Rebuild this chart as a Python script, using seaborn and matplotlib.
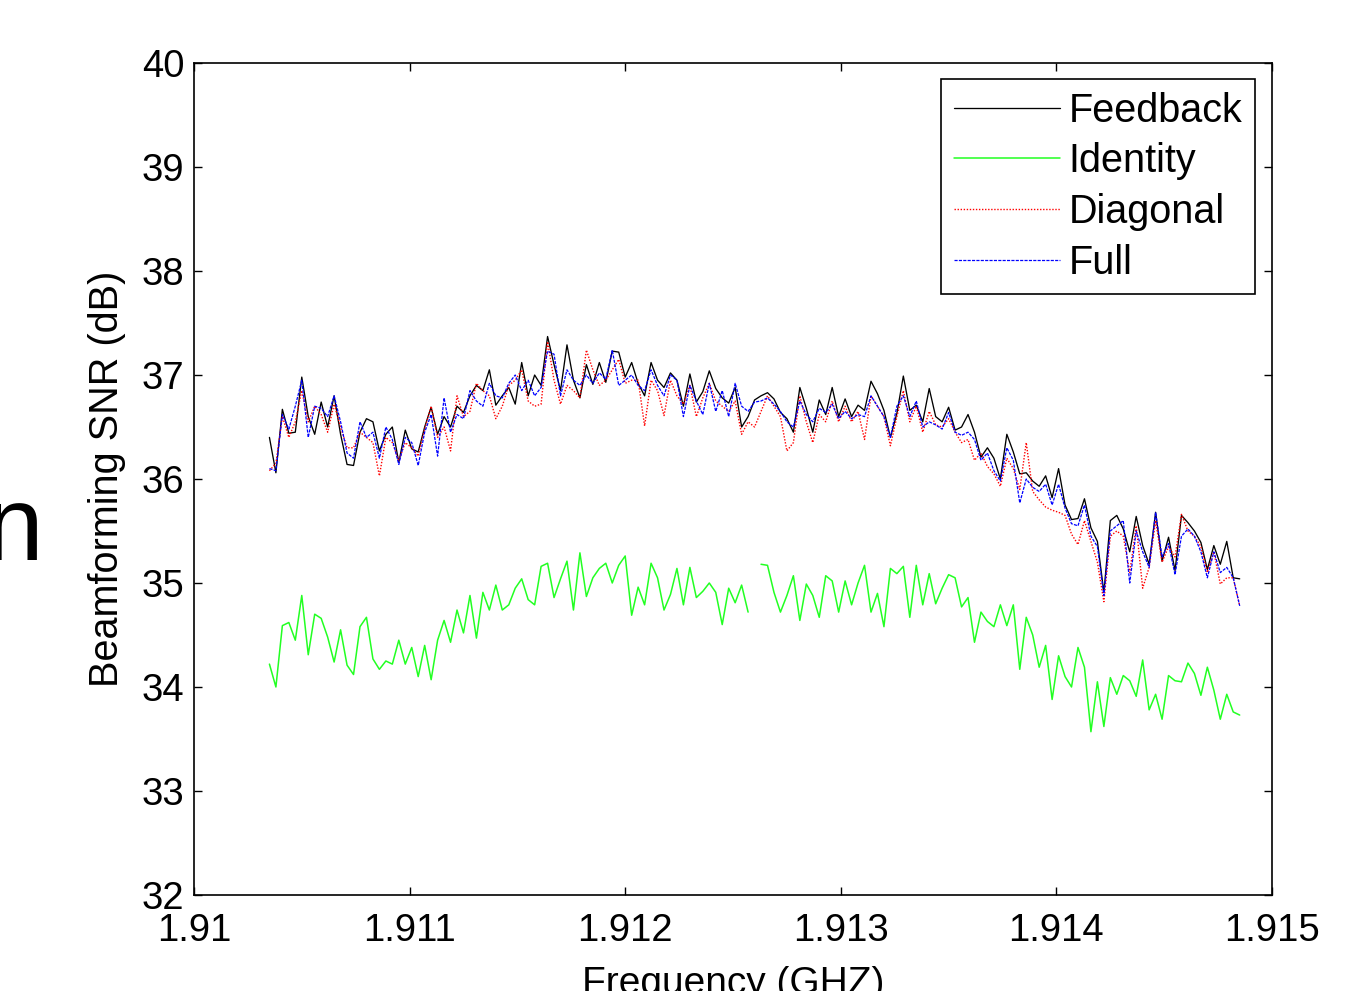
import numpy as np
import pandas as pd
import matplotlib
matplotlib.use("Agg")
import matplotlib.pyplot as plt
import seaborn as sns

# Subcarrier index (every 2nd subcarrier, 15 kHz spacing around 1.9126 GHz)
subcarrier = list(range(-150, 151, 2))
center_ghz = 1.9126
spacing_ghz = 0.000015

feedback = [
    36.40, 36.06, 36.67, 36.44, 36.45, 36.98, 36.60, 36.43, 36.74, 36.50,
    36.80, 36.43, 36.14, 36.13, 36.45, 36.58, 36.55, 36.27, 36.43, 36.50,
    36.16, 36.47, 36.29, 36.26, 36.50, 36.69, 36.43, 36.60, 36.50, 36.70,
    36.64, 36.80, 36.90, 36.85, 37.05, 36.71, 36.80, 36.88, 36.72, 37.12,
    36.80, 37.00, 36.90, 37.37, 37.10, 36.85, 37.29, 36.95, 36.78, 37.10,
    36.91, 37.12, 36.93, 37.23, 37.22, 36.98, 37.12, 36.92, 36.80, 37.12,
    36.95, 36.88, 37.02, 36.95, 36.70, 37.01, 36.74, 36.84, 37.04, 36.87,
    36.78, 36.73, 36.88, 36.50, 36.60, 36.76, 36.80, 36.83, 36.77, 36.64,
    36.58, 36.45, 36.88, 36.68, 36.45, 36.76, 36.62, 36.88, 36.60, 36.77,
    36.60, 36.71, 36.66, 36.94, 36.82, 36.66, 36.40, 36.63, 36.99, 36.66,
    36.71, 36.55, 36.87, 36.60, 36.55, 36.69, 36.47, 36.50, 36.62, 36.45,
    36.21, 36.30, 36.20, 36.00, 36.43, 36.26, 36.05, 36.06, 35.98, 35.93,
    36.03, 35.82, 36.10, 35.75, 35.61, 35.62, 35.81, 35.53, 35.40, 34.91,
    35.60, 35.65, 35.52, 35.30, 35.64, 35.36, 35.18, 35.68, 35.21, 35.44,
    35.12, 35.65, 35.58, 35.50, 35.39, 35.13, 35.36, 35.18, 35.40, 35.05,
    35.04,
]

identity = [
    34.22, 34.00, 34.59, 34.62, 34.45, 34.88, 34.31, 34.70, 34.66, 34.48,
    34.24, 34.55, 34.21, 34.12, 34.58, 34.67, 34.27, 34.17, 34.25, 34.22,
    34.45, 34.22, 34.38, 34.10, 34.40, 34.07, 34.45, 34.64, 34.43, 34.74,
    34.52, 34.88, 34.47, 34.91, 34.74, 34.98, 34.74, 34.79, 34.95, 35.04,
    34.84, 34.79, 35.16, 35.19, 34.86, 35.04, 35.21, 34.74, 35.29, 34.87,
    35.05, 35.14, 35.19, 35.00, 35.17, 35.26, 34.69, 34.96, 34.79, 35.19,
    35.05, 34.74, 34.89, 35.14, 34.79, 35.15, 34.86, 34.92, 35.00, 34.91,
    34.60, 34.95, 34.81, 34.98, 34.72, np.nan, 35.18, 35.17, 34.91, 34.72,
    34.88, 35.07, 34.64, 34.99, 34.88, 34.67, 35.07, 35.02, 34.72, 35.02,
    34.79, 35.00, 35.17, 34.72, 34.90, 34.58, 35.14, 35.09, 35.16, 34.67,
    35.17, 34.79, 35.09, 34.80, 34.95, 35.08, 35.05, 34.77, 34.86, 34.43,
    34.72, 34.63, 34.58, 34.79, 34.59, 34.79, 34.17, 34.67, 34.50, 34.19,
    34.40, 33.88, 34.30, 34.10, 34.00, 34.38, 34.19, 33.57, 34.05, 33.62,
    34.09, 33.93, 34.11, 34.06, 33.91, 34.26, 33.78, 33.93, 33.69, 34.11,
    34.06, 34.05, 34.23, 34.13, 33.92, 34.19, 33.97, 33.69, 33.93, 33.76,
    33.73,
]

diagonal = [
    36.08, 36.15, 36.60, 36.40, 36.55, 36.85, 36.55, 36.70, 36.62, 36.45,
    36.72, 36.50, 36.30, 36.30, 36.45, 36.40, 36.35, 36.03, 36.40, 36.35,
    36.18, 36.35, 36.30, 36.22, 36.48, 36.70, 36.40, 36.50, 36.27, 36.80,
    36.60, 36.65, 36.92, 36.85, 36.80, 36.58, 36.70, 36.90, 36.95, 37.05,
    36.75, 36.70, 36.72, 37.32, 36.95, 36.72, 36.90, 36.85, 36.78, 37.24,
    37.05, 36.90, 36.95, 37.05, 37.15, 36.92, 36.95, 36.95, 36.51, 36.95,
    36.85, 36.61, 36.95, 36.80, 36.72, 36.90, 36.60, 36.78, 36.92, 36.75,
    36.70, 36.65, 36.75, 36.43, 36.55, 36.50, 36.65, 36.80, 36.70, 36.60,
    36.27, 36.35, 36.80, 36.55, 36.35, 36.62, 36.55, 36.75, 36.55, 36.70,
    36.55, 36.65, 36.38, 36.80, 36.70, 36.60, 36.32, 36.60, 36.85, 36.55,
    36.70, 36.45, 36.65, 36.52, 36.50, 36.58, 36.45, 36.35, 36.38, 36.18,
    36.25, 36.12, 36.05, 35.93, 36.20, 36.10, 35.90, 36.35, 35.88, 35.80,
    35.73, 35.70, 35.68, 35.65, 35.47, 35.37, 35.60, 35.40, 35.20, 34.82,
    35.45, 35.50, 35.45, 35.10, 35.55, 34.95, 35.15, 35.60, 35.20, 35.35,
    35.25, 35.66, 35.50, 35.45, 35.35, 35.10, 35.30, 34.99, 35.05, 35.05,
    34.78,
]

full = [
    36.10, 36.08, 36.62, 36.48, 36.70, 36.95, 36.40, 36.70, 36.68, 36.60,
    36.80, 36.55, 36.25, 36.20, 36.55, 36.40, 36.45, 36.20, 36.50, 36.38,
    36.14, 36.40, 36.35, 36.13, 36.45, 36.62, 36.22, 36.78, 36.45, 36.62,
    36.58, 36.85, 36.75, 36.70, 36.92, 36.80, 36.78, 36.92, 37.00, 36.85,
    36.95, 36.80, 36.88, 37.23, 37.20, 36.80, 37.05, 36.95, 36.90, 37.00,
    36.92, 37.02, 36.96, 37.24, 36.90, 36.95, 37.00, 36.90, 36.85, 37.05,
    36.90, 36.80, 37.00, 36.95, 36.60, 36.90, 36.75, 36.62, 36.92, 36.65,
    36.85, 36.60, 36.92, 36.70, 36.65, 36.74, 36.75, 36.78, 36.72, 36.65,
    36.55, 36.50, 36.75, 36.62, 36.55, 36.68, 36.64, 36.72, 36.58, 36.65,
    36.58, 36.62, 36.60, 36.80, 36.70, 36.60, 36.40, 36.70, 36.80, 36.60,
    36.75, 36.50, 36.55, 36.52, 36.48, 36.64, 36.45, 36.42, 36.45, 36.38,
    36.18, 36.25, 36.08, 35.98, 36.30, 36.18, 35.77, 36.00, 35.92, 35.88,
    35.95, 35.75, 35.95, 35.72, 35.57, 35.55, 35.75, 35.45, 35.35, 34.88,
    35.50, 35.55, 35.60, 35.00, 35.50, 35.30, 35.15, 35.68, 35.25, 35.38,
    35.08, 35.45, 35.52, 35.45, 35.30, 35.05, 35.30, 35.10, 35.15, 35.05,
    34.78,
]

series_names = ["Feedback", "Identity", "Diagonal", "Full"]
series_values = [feedback, identity, diagonal, full]
x_ticks = [1.91, 1.911, 1.912, 1.913, 1.914, 1.915]
x_tick_labels = ["1.91", "1.911", "1.912", "1.913", "1.914", "1.915"]
y_ticks = [32, 33, 34, 35, 36, 37, 38, 39, 40]

freq = [center_ghz + k * spacing_ghz for k in subcarrier]
rows = []
for name, vals in zip(series_names, series_values):
    for k, f, v in zip(subcarrier, freq, vals):
        if v is None or (isinstance(v, float) and np.isnan(v)):
            continue
        seg = 0 if (k < 0 or name != "Identity") else 1
        rows.append({"freq": f, "snr": v, "series": name, "seg": seg})
df = pd.DataFrame(rows)

sns.set_theme(style="white")
plt.rcParams["font.family"] = ["Liberation Sans", "DejaVu Sans"]
plt.rcParams["text.color"] = "black"
plt.rcParams["axes.labelcolor"] = "black"
plt.rcParams["xtick.color"] = "black"
plt.rcParams["ytick.color"] = "black"

fig = plt.figure(figsize=(13.65, 9.91), dpi=100)
ax = fig.add_axes([0.1421, 0.0969, 0.7898, 0.8395])

palette = {"Feedback": "#000000", "Identity": "#22ff22",
           "Diagonal": "#ff0000", "Full": "#0000ff"}
dashes = {"Feedback": None, "Identity": None, "Diagonal": (1, 1.2), "Full": (2.5, 1)}
widths = {"Feedback": 0.95, "Identity": 1.1, "Diagonal": 1.0, "Full": 0.9}

for name in series_names:
    sub = df[df["series"] == name]
    before = len(ax.get_lines())
    sns.lineplot(data=sub, x="freq", y="snr", units="seg", estimator=None,
                 color=palette[name], lw=widths[name], ax=ax,
                 label=name, sort=False)
    new_lines = ax.get_lines()[before:]
    if dashes[name]:
        for line in new_lines:
            line.set_dashes(dashes[name])

ax.set_xlim(1.91, 1.915)
ax.set_ylim(32, 40)
ax.set_xticks(x_ticks)
ax.set_xticklabels(x_tick_labels)
ax.set_yticks(y_ticks)
ax.set_xlabel("Frequency (GHZ)", fontsize=28, labelpad=12)
ax.set_ylabel("Beamforming SNR (dB)", fontsize=28.5, labelpad=11)
ax.tick_params(axis="both", which="major", labelsize=27.5, direction="in",
               length=6, width=1, color="black", labelcolor="black",
               top=True, right=True, bottom=True, left=True)
ax.tick_params(axis="x", pad=13)
ax.tick_params(axis="y", pad=7)
for sp in ax.spines.values():
    sp.set_color("black")
    sp.set_linewidth(1.2)
    sp.set_visible(True)
ax.grid(False)

handles, labels = ax.get_legend_handles_labels()
hmap = {l: h for h, l in zip(handles, labels)}
leg = ax.legend([hmap[n] for n in series_names], series_names,
                loc="upper right", bbox_to_anchor=(0.984, 0.981),
                fontsize=28.5, frameon=True, fancybox=False, framealpha=1,
                edgecolor="black", handlelength=2.7, handletextpad=0.2,
                labelspacing=0.32, borderpad=0.32, borderaxespad=0.0)
leg.get_frame().set_linewidth(1.2)
for lh, n in zip(leg.get_lines(), series_names):
    if dashes[n]:
        lh.set_dashes(dashes[n])

fig.text(-0.011, 0.435, "n", fontsize=76, ha="left", va="baseline",
         color="black")

fig.savefig("out.png", dpi=100)
